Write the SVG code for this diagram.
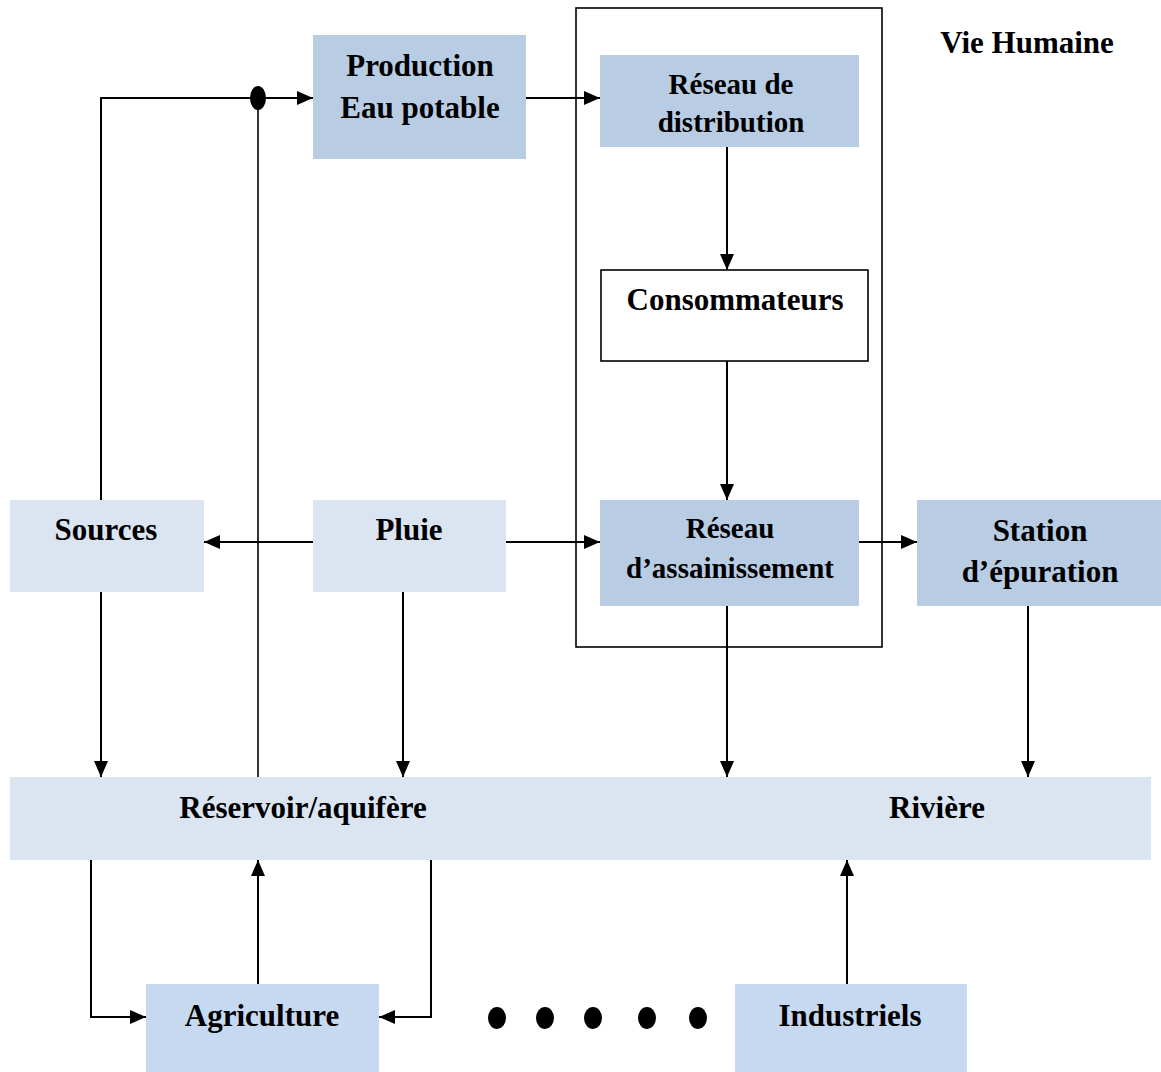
<svg xmlns="http://www.w3.org/2000/svg" width="1161" height="1072" viewBox="0 0 1161 1072">
  <defs>
    <style>
      text { font-family: "Liberation Serif", "Times New Roman", serif; font-weight: bold; fill: #000; text-anchor: middle; }
      .t31 { font-size: 31px; }
      .t29 { font-size: 29px; }
      .dark { fill: #b8cce4; }
      .light { fill: #dbe5f1; }
      .mid { fill: #c6d9f0; }
      .wire { fill: none; stroke: #000; stroke-width: 2; }
      .thin { fill: none; stroke: #000; stroke-width: 1.6; }
    </style>
    <marker id="arrow" markerUnits="userSpaceOnUse" markerWidth="16" markerHeight="14" viewBox="0 0 16 14" refX="16" refY="7" orient="auto">
      <path d="M0,0 L16,7 L0,14 Z" fill="#000"/>
    </marker>
  </defs>
  <rect width="1161" height="1072" fill="#fff"/>

  <!-- Human-use frame -->
  <g id="vie-humaine">
    <rect x="576" y="8" width="306" height="639" fill="none" stroke="#000" stroke-width="1.6"/>
    <text class="t31" x="1027" y="53">Vie Humaine</text>
  </g>

  <g id="production">
    <rect class="dark" x="313" y="35" width="213" height="124"/>
    <text class="t31" x="420" y="76">Production</text>
    <text class="t31" x="420" y="118">Eau potable</text>
  </g>

  <g id="distribution">
    <rect class="dark" x="600" y="55" width="259" height="92"/>
    <text class="t29" x="731" y="94">Réseau de</text>
    <text class="t29" x="731" y="132">distribution</text>
  </g>

  <g id="consommateurs">
    <rect x="601" y="270" width="267" height="91" fill="#fff" stroke="#000" stroke-width="1.6"/>
    <text class="t31" x="735" y="310">Consommateurs</text>
  </g>

  <g id="assainissement">
    <rect class="dark" x="600" y="500" width="259" height="106"/>
    <text class="t29" x="730" y="538">Réseau</text>
    <text class="t29" x="730" y="578">d’assainissement</text>
  </g>

  <g id="station">
    <rect class="dark" x="917" y="500" width="244" height="106"/>
    <text class="t31" x="1040" y="541">Station</text>
    <text class="t31" x="1040" y="582">d’épuration</text>
  </g>

  <g id="sources">
    <rect class="light" x="10" y="500" width="194" height="92"/>
    <text class="t31" x="106" y="540">Sources</text>
  </g>

  <g id="pluie">
    <rect class="light" x="313" y="500" width="193" height="92"/>
    <text class="t31" x="409" y="540">Pluie</text>
  </g>

  <g id="reservoir-riviere">
    <rect class="light" x="10" y="777" width="1141" height="83"/>
    <text class="t31" x="303" y="818">Réservoir/aquifère</text>
    <text class="t31" x="937" y="818">Rivière</text>
  </g>

  <g id="agriculture">
    <rect class="mid" x="146" y="984" width="233" height="88"/>
    <text class="t31" x="262" y="1026">Agriculture</text>
  </g>

  <g id="industriels">
    <rect class="mid" x="735" y="984" width="232" height="88"/>
    <text class="t31" x="850" y="1026">Industriels</text>
  </g>

  <g id="ellipsis">
    <ellipse cx="497" cy="1018" rx="9" ry="11"/>
    <ellipse cx="545" cy="1018" rx="9" ry="11"/>
    <ellipse cx="593" cy="1018" rx="9" ry="11"/>
    <ellipse cx="647" cy="1018" rx="9" ry="11"/>
    <ellipse cx="698" cy="1018" rx="9" ry="11"/>
  </g>

  <g id="connectors">
    <!-- sources and aquifer feed the treatment plant -->
    <path class="wire" d="M101,500 V98 H313" marker-end="url(#arrow)"/>
    <path class="thin" d="M258,777 V98"/>
    <ellipse cx="258" cy="98" rx="8" ry="12" fill="#000"/>
    <path class="wire" d="M526,98 H600" marker-end="url(#arrow)"/>
    <path class="wire" d="M727,147 V270" marker-end="url(#arrow)"/>
    <path class="wire" d="M727,361 V500" marker-end="url(#arrow)"/>
    <!-- rain -->
    <path class="wire" d="M313,542 H204" marker-end="url(#arrow)"/>
    <path class="wire" d="M506,542 H600" marker-end="url(#arrow)"/>
    <path class="wire" d="M859,542 H917" marker-end="url(#arrow)"/>
    <!-- down to the aquifer / river -->
    <path class="wire" d="M101,592 V777" marker-end="url(#arrow)"/>
    <path class="wire" d="M403,592 V777" marker-end="url(#arrow)"/>
    <path class="wire" d="M727,606 V777" marker-end="url(#arrow)"/>
    <path class="wire" d="M1028,606 V777" marker-end="url(#arrow)"/>
    <!-- agriculture loop -->
    <path class="wire" d="M91,860 V1017 H146" marker-end="url(#arrow)"/>
    <path class="wire" d="M258,984 V860" marker-end="url(#arrow)"/>
    <path class="wire" d="M431,860 V1017 H379" marker-end="url(#arrow)"/>
    <!-- industry -->
    <path class="wire" d="M847,984 V860" marker-end="url(#arrow)"/>
  </g>
</svg>
